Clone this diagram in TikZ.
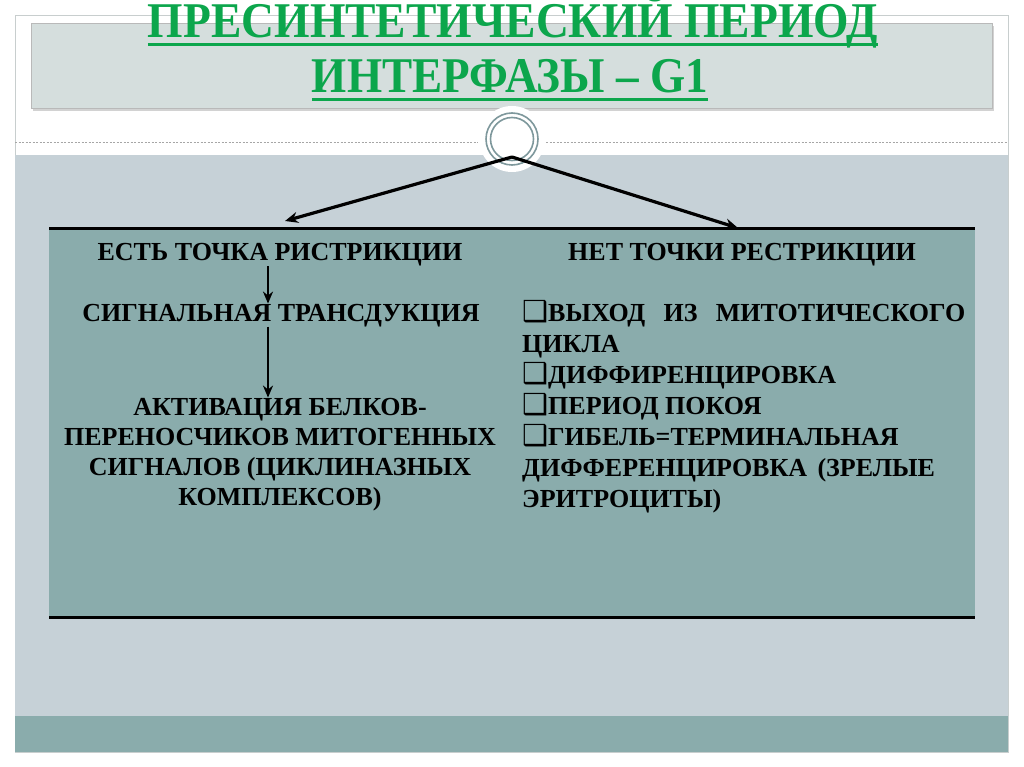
\documentclass[tikz,border=0pt]{standalone}
\usepackage{fontspec}
\setmainfont{Liberation Serif}
\newfontfamily\dejavu{DejaVu Sans}
\usetikzlibrary{arrows.meta,shadows}
\definecolor{tgreen}{RGB}{12,166,76}
\definecolor{boxfill}{RGB}{213,222,221}
\definecolor{bggray}{RGB}{198,209,215}
\definecolor{tealfill}{RGB}{138,172,172}
\definecolor{ringcol}{RGB}{126,152,156}
\definecolor{framecol}{RGB}{200,206,206}
\newcommand{\bul}{{\dejavu\fontsize{29}{29}\selectfont ❑}}
\begin{document}
\begin{tikzpicture}[x=1pt,y=-1pt,
  titletext/.style={font=\fontsize{50}{50}\selectfont\bfseries, text=tgreen, inner sep=0pt, anchor=base},
  uline/.style={draw=tgreen, line width=3pt},
  body/.style={font=\fontsize{26}{30}\selectfont\bfseries, text=black, inner sep=0pt},
  bigarrow/.style={draw=black, line width=3.2pt, -{Stealth[length=13pt,width=11pt]}},
  varrow/.style={draw=black, line width=2.6pt, -{Stealth[length=12pt,width=10pt]}},
  ring/.style={draw=ringcol, line width=1.6pt},
  dline/.style={draw=gray!70, line width=0.8pt, dash pattern=on 2pt off 1.5pt},
  rule/.style={draw=black, line width=3pt}
]
\useasboundingbox (0,0) rectangle (1024,767);
\fill[white] (0,0) rectangle (1024,767);
% outer frame
\draw[framecol, fill=white, line width=0.8pt] (15,15) rectangle (1008,752);
\fill[bggray] (15,155) rectangle (1008,716);
\fill[tealfill] (15,716) rectangle (1008,752);
% dashed separator
\draw[dline] (15,142) -- (478,142);
\draw[dline] (546,142) -- (1008,142);
% title box
\path[fill=boxfill, draw=gray!55, line width=0.6pt, drop shadow={opacity=0.35, shadow xshift=2pt, shadow yshift=-3pt}] (31,23) rectangle (992,108);
% circle ornament
\fill[white] (512,139) circle[radius=33];
\draw[ring] (512,139) circle[radius=26];
\draw[ring] (512,139) circle[radius=21.5];
% table
\fill[tealfill] (49,229) rectangle (975,618);
\draw[rule] (49,229) -- (975,229);
\draw[rule] (49,617) -- (975,617);
% title
\node[titletext] (t1) at (513,38) {\resizebox{730pt}{\height}{ПРЕСИНТЕТИЧЕСКИЙ ПЕРИОД}};
\node[titletext] (t2) at (510,93) {\resizebox{396pt}{\height}{ИНТЕРФАЗЫ – G1}};
\draw[uline] ([yshift=-6.5pt]t1.base west) -- ([yshift=-6.5pt]t1.base east);
\draw[uline] ([yshift=-6.5pt]t2.base west) -- ([yshift=-6.5pt]t2.base east);
% branching arrows
\coordinate (apex) at (512,157);
\coordinate (lt) at (285,221);
\coordinate (rt) at (738,228);
\draw[bigarrow] (apex) -- (lt);
\draw[bigarrow] (apex) -- (rt);
% left column
\node[body, anchor=base] (lh) at (280,260.5) {ЕСТЬ ТОЧКА РИСТРИКЦИИ};
\node[body, anchor=base] (ls) at (281,321) {СИГНАЛЬНАЯ ТРАНСДУКЦИЯ};
\node[body, anchor=base] (la) at (280,415) {АКТИВАЦИЯ БЕЛКОВ-};
\node[body, anchor=base] (lb) at (280,445) {ПЕРЕНОСЧИКОВ МИТОГЕННЫХ};
\node[body, anchor=base] (lc) at (280,475) {СИГНАЛОВ (ЦИКЛИНАЗНЫХ};
\node[body, anchor=base] (ld) at (280,505) {КОМПЛЕКСОВ)};
\coordinate (ax) at (268,0);
\draw[varrow] (lh.south -| ax) -- (ls.north -| ax);
\draw[varrow] (ls.south -| ax) -- (la.north -| ax);
% right column
\node[body, anchor=base] (rh) at (742,260.5) {НЕТ ТОЧКИ РЕСТРИКЦИИ};
\node[body, anchor=base west] (r1) at (522,321) {\hbox to 443pt{\bul ВЫХОД\hfill ИЗ\hfill МИТОТИЧЕСКОГО}};
\node[body, anchor=base west] (r2) at (522,352) {ЦИКЛА};
\node[body, anchor=base west] (r3) at (522,383) {\bul ДИФФИРЕНЦИРОВКА};
\node[body, anchor=base west] (r4) at (522,414) {\bul ПЕРИОД ПОКОЯ};
\node[body, anchor=base west] (r5) at (522,445) {\bul ГИБЕЛЬ=ТЕРМИНАЛЬНАЯ};
\node[body, anchor=base west] (r6) at (522,476) {ДИФФЕРЕНЦИРОВКА\hspace{0.4em}(ЗРЕЛЫЕ};
\node[body, anchor=base west] (r7) at (522,507) {ЭРИТРОЦИТЫ)};
\end{tikzpicture}
\end{document}
